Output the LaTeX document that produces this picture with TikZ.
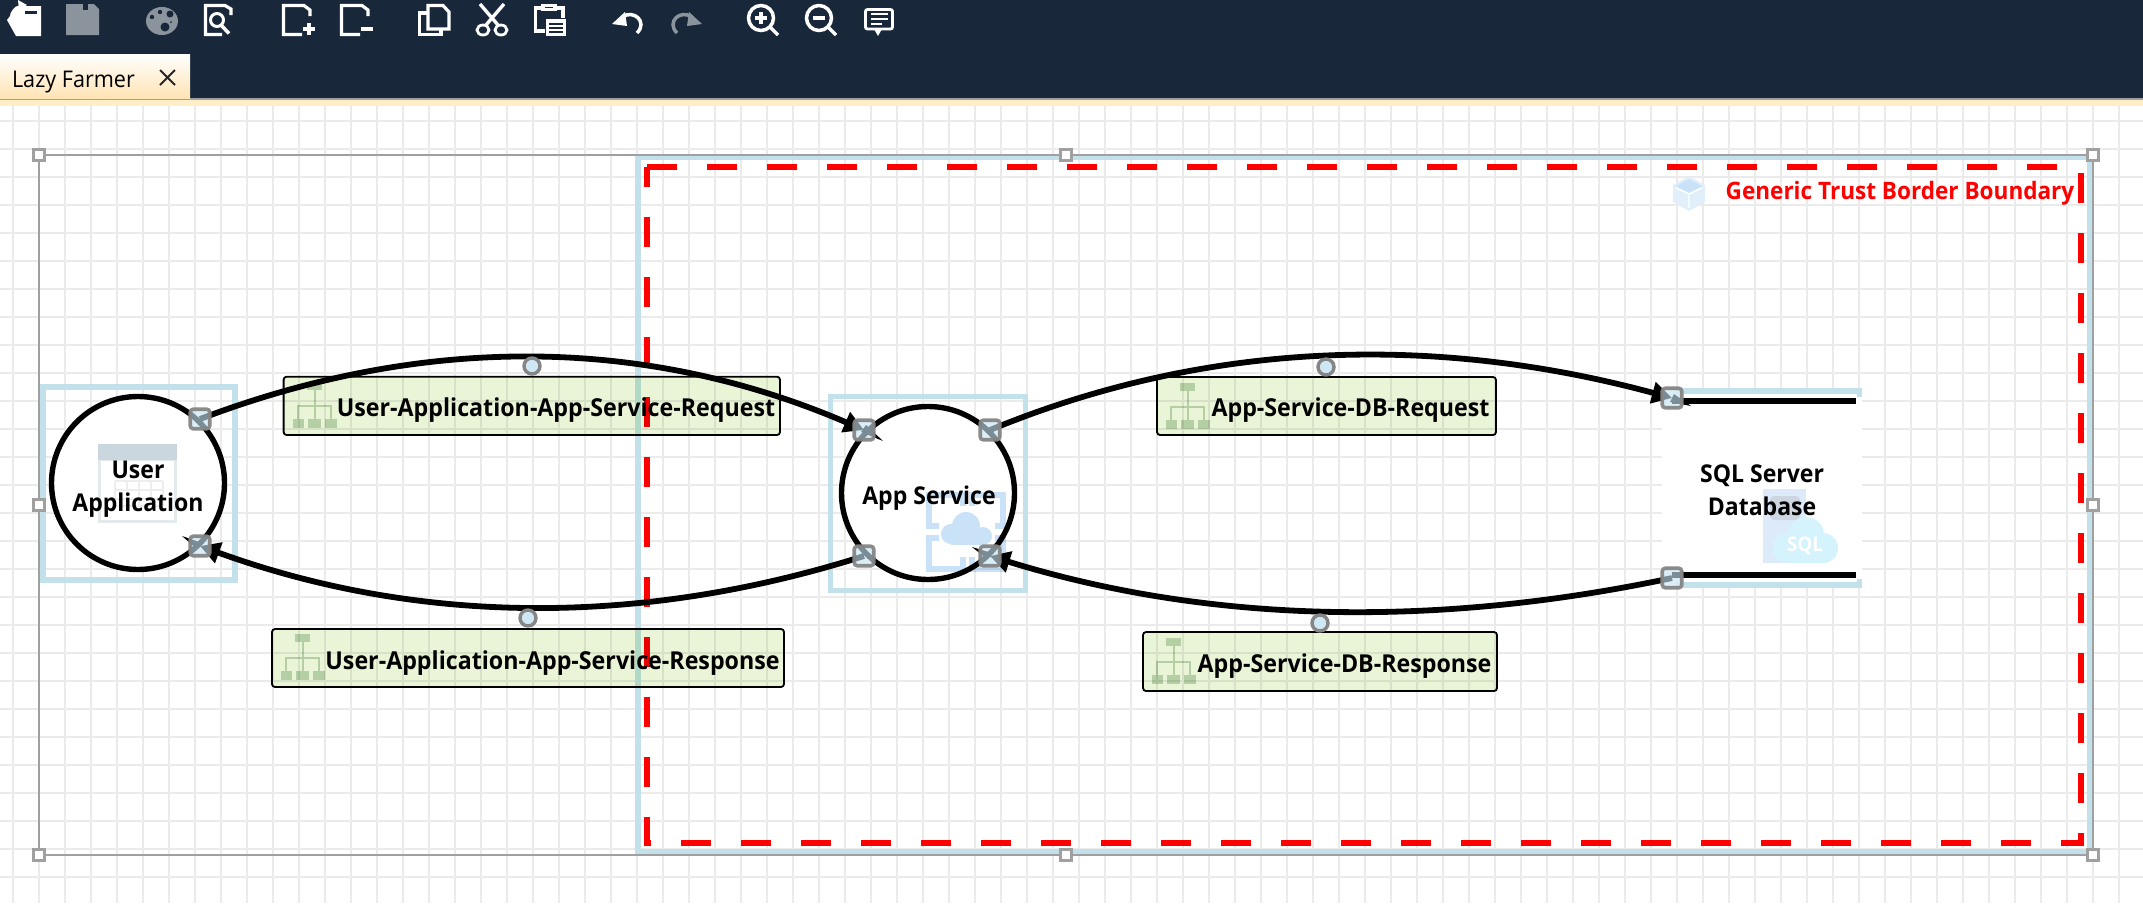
\documentclass[tikz,border=0pt]{standalone}
\usepackage{fontspec}
\setmainfont{Open Sans}[FakeStretch=0.94]
\usetikzlibrary{arrows.meta,shapes.geometric}
\definecolor{barbg}{HTML}{18283A}
\definecolor{toolgray}{HTML}{8B949D}
\definecolor{gridc}{HTML}{EBEBEB}
\definecolor{bluebd}{HTML}{C2E1EB}
\definecolor{selgray}{HTML}{A0A0A0}
\definecolor{labelg}{HTML}{EAF5D8}
\definecolor{neticonc}{HTML}{C6D8C2}
\definecolor{iconblue}{HTML}{C9E2F8}
\definecolor{portgray}{HTML}{858585}
\definecolor{portfill}{HTML}{C6E3F2}
\definecolor{creamc}{HTML}{FFEFC8}
\definecolor{apphead}{HTML}{CAD7DE}
\definecolor{appedge}{HTML}{E4E9EC}
\definecolor{sqlback}{HTML}{DDEAF9}
\definecolor{sqlchip}{HTML}{CDD6E0}
\definecolor{sqlcloud}{HTML}{D4F3FC}
\tikzset{
  blueframe/.style={draw=bluebd,line width=5.5pt},
  procnode/.style={circle,draw=black,fill=white,line width=5.4pt,minimum size=173pt,inner sep=0pt},
  caption/.style={font=\bfseries\fontsize{24.5}{32.5}\selectfont,align=center,inner sep=0pt,text=black},
  flowlabel/.style={draw=black,line width=1.8pt,fill=labelg,rounded corners=3pt,inner sep=0pt},
  flowtext/.style={font=\bfseries\fontsize{24.7}{28}\selectfont,inner sep=0pt,text=black},
  portbox/.style={rectangle,draw=portgray,line width=3.6pt,fill=portfill,fill opacity=.62,draw opacity=.95,rounded corners=3pt,minimum size=19.5pt,inner sep=0pt},
  knob/.style={circle,draw=portgray,line width=3.4pt,fill=portfill!85!white,minimum size=16pt,inner sep=0pt},
  handlebox/.style={rectangle,draw=selgray,line width=2.4pt,fill=white,minimum size=11pt,inner sep=0pt},
  flow/.style={draw=black,line width=5.8pt,-{Triangle[length=20pt,width=21pt]}},
  plainflow/.style={draw=black,line width=6pt},
  tw/.style={draw=white,line width=3pt},
  tg/.style={draw=toolgray,line width=3.5pt},
}
\newcommand{\neticon}[2]{%
  \begin{scope}[shift={(#1,#2)}]
    \fill[neticonc] (14,0) rectangle (29,8);
    \fill[neticonc] (0,37) rectangle (11,46);
    \fill[neticonc] (15,37) rectangle (28,46);
    \fill[neticonc] (32,37) rectangle (44,46);
    \draw[neticonc,line width=2pt] (21.5,8) -- (21.5,37) (5,37) -- (5,24) -- (38,24) -- (38,37);
  \end{scope}}
\begin{document}
\begin{tikzpicture}[x=1pt,y=-1pt]
\useasboundingbox (0,0) rectangle (2143,903);
\fill[white] (0,0) rectangle (2143,903);
% ---- canvas grid
\foreach \k in {0,...,81} \draw[gridc,line width=2pt] (13.4+26*\k,106) -- (13.4+26*\k,903);
\foreach \k in {0,...,27} \draw[gridc,line width=2pt] (0,121.3+28*\k) -- (2143,121.3+28*\k);
% ---- application chrome
\fill[barbg] (0,0) rectangle (2143,98);
\fill[selgray] (0,98) rectangle (2143,100);
\fill[creamc] (0,100) rectangle (2143,106);
\shade[top color=white,bottom color=creamc!90!orange] (0,54) rectangle (190,98);
\node[inner sep=0pt,font=\fontsize{23}{26}\selectfont,text=black] (tabtext) at (73.5,82) {Lazy Farmer};
\draw[black!85,line width=1.8pt] (160,70) -- (175,85) (175,70) -- (160,85);
% toolbar: open
\fill[white] (7,20) -- (16,36) -- (41,36) -- (41,6) -- (22,6) .. controls (14,7) and (10,12) .. (10,16) -- cycle;
\fill[barbg] (25,11) rectangle (37,14);
\draw[white,line width=2.5pt] (12,14) .. controls (14,8) and (18,6) .. (24,6);
\fill[white] (18,0) -- (27,5) -- (19,9) -- cycle;
% save
\fill[toolgray] (66,4) -- (94,4) -- (99,9) -- (99,35) -- (66,35) -- cycle;
\fill[barbg] (83,4) rectangle (88,10);
% palette
\fill[toolgray] (162,21) ellipse [x radius=16,y radius=14];
\fill[barbg] (160,12) circle (2.2);
\fill[barbg] (170,14) circle (3.5);
\fill[barbg] (165,27) circle (4.5);
\fill[barbg] (152,17) circle (2.2);
\fill[barbg] (171,22) circle (1);
% preview
\draw[tw,line width=3.2pt] (231,15) -- (231,9) -- (225,5.5) -- (205.5,5.5) -- (205.5,34.5) -- (222,34.5);
\draw[tw] (217,20) circle (6.5);
\draw[tw,line width=3.5pt] (221,25) -- (229,33.5);
% new page / remove page
\draw[tw,line width=3.2pt] (310,16) -- (310,10) -- (304,5.5) -- (283.5,5.5) -- (283.5,34.5) -- (302,34.5);
\draw[tw,line width=3.4pt] (303,29) -- (315,29) (309,23) -- (309,35);
\draw[tw,line width=3.2pt] (368,16) -- (368,10) -- (362,5.5) -- (341.5,5.5) -- (341.5,34.5) -- (360,34.5);
\draw[tw,line width=3.6pt] (361,29) -- (373,29);
% copy
\draw[tw,line width=3.2pt] (428,5.5) -- (443,5.5) -- (449,12) -- (449,29) -- (428,29) -- cycle;
\draw[tw,line width=3.2pt] (428,13) -- (419.5,13) -- (419.5,34.5) -- (441,34.5) -- (441,29);
% cut
\draw[tw,line width=3.4pt] (480,4) -- (498,25) (504,4) -- (486,25);
\draw[tw,line width=2.8pt] (483,30) ellipse [x radius=6,y radius=5] (501,30) ellipse [x radius=6,y radius=5];
% paste
\draw[tw,line width=3.2pt] (541,8) -- (535.5,8) -- (535.5,31) -- (545,31) (557,8) -- (563,8) -- (563,18);
\fill[white] (541,4) rectangle (557,11);
\fill[barbg] (545,6.5) rectangle (553,8);
\fill[white] (546,19) rectangle (566,36);
\draw[barbg,line width=1.5pt] (549,24) -- (563,24) (549,28) -- (563,28) (549,32) -- (563,32);
% undo / redo
\draw[tw,line width=3.5pt] (622,17) .. controls (634,9) and (648,22) .. (637,33);
\fill[white] (612,24) -- (625,12) -- (627,26) -- cycle;
\draw[tg] (692,17) .. controls (680,9) and (666,22) .. (677,33);
\fill[toolgray] (702,24) -- (689,12) -- (687,26) -- cycle;
% zoom in / out
\draw[tw,line width=3.5pt] (761,18) circle (12.5) (771,28) -- (778,35);
\draw[tw,line width=3.2pt] (755,18) -- (767,18) (761,12) -- (761,24);
\draw[tw,line width=3.5pt] (819,18) circle (12.5) (829,28) -- (836,35);
\draw[tw,line width=3.4pt] (813,18) -- (825,18);
% comment
\draw[tw,line width=2.8pt,rounded corners=2pt] (865.5,9.5) rectangle (892.5,29);
\fill[white] (874,29) -- (878,36) -- (882,29) -- cycle;
\draw[tw,line width=1.6pt] (871,14) -- (888,14) (871,19) -- (888,19) (871,24) -- (882,24);
% ---- trust border
\draw[blueframe] (638,157.5) rectangle (2090,852);
\draw[red,line width=6pt,dash pattern=on 30pt off 30pt] (647,167) -- (2081,167) -- (2081,843) -- (647,843) -- cycle;
\draw[selgray,line width=2pt] (39,155) rectangle (2093,855);
% cube icon
\fill[iconblue!55!white] (1689,176) -- (1705,185) -- (1705,202) -- (1689,211) -- (1673,202) -- (1673,185) -- cycle;
\fill[iconblue] (1689,179) -- (1702,186) -- (1689,193) -- (1676,186) -- cycle;
\draw[white,line width=1.4pt] (1689,194) -- (1689,208) (1676,188) -- (1689,194) -- (1702,188);
\node[inner sep=0pt,text=red,font=\bfseries\fontsize{24}{28}\selectfont] (trusttext) at (1900,193.5) {Generic Trust Border Boundary};
% ---- User Application
\draw[blueframe] (43,387) rectangle (235,580);
\node[procnode] (ua) at (138,483) {};
\fill[appedge] (98,444) rectangle (177,523);
\fill[white] (101,461) rectangle (174,520);
\fill[apphead] (98,444) rectangle (177,460);
\foreach \yy in {481,490,499,506} \draw[black!7,line width=1.2pt] (115,\yy) -- (163,\yy);
\foreach \xx in {115,127,139,151,163} \draw[black!7,line width=1.2pt] (\xx,481) -- (\xx,506);
\node[caption] (uatext) at (138,489) {User\\Application};
% ---- App Service
\draw[blueframe] (830.5,396.5) rectangle (1025.5,590.5);
\node[procnode] (as) at (928,493) {};
\begin{scope}[blend mode=multiply]
\draw[iconblue,line width=5.5pt] (963,506) -- (963,495) -- (929,495) -- (929,526) -- (939,526);
\draw[iconblue,line width=5.5pt] (972,506) -- (972,495) -- (1003,495) -- (1003,526) -- (995,526);
\draw[iconblue,line width=5.5pt] (963,557) -- (963,569) -- (929,569) -- (929,538) -- (939,538);
\draw[iconblue,line width=5.5pt] (972,557) -- (972,569) -- (1003,569) -- (1003,538) -- (995,538);
\end{scope}
\fill[iconblue] (966,526) circle (14);
\fill[iconblue] (951,534) circle (10);
\fill[iconblue] (983,536) circle (9);
\fill[iconblue] (951,533) rectangle (983,545);
\node[caption] (astext) at (929,498) {App Service};
% ---- SQL Server Database
\fill[white] (1662,394) rectangle (1862,582);
\fill[bluebd] (1680,388) rectangle (1862,394);
\fill[bluebd] (1857,388) rectangle (1862,397);
\fill[bluebd] (1680,582) rectangle (1862,588);
\fill[bluebd] (1857,579) rectangle (1862,588);
\fill[sqlback] (1763,489) rectangle (1806,563);
\fill[sqlchip,rounded corners=4pt] (1770,496) rectangle (1800,520);
\fill[sqlcloud] (1806,535) circle (18);
\fill[sqlcloud] (1787,548) circle (14.5);
\fill[sqlcloud] (1823,548) circle (15);
\fill[sqlcloud] (1787,545) rectangle (1823,563);
\node[inner sep=0pt,text=white,font=\bfseries\fontsize{20}{20}\selectfont] (sqlmark) at (1805,546) {SQL};
\node[caption] (dbtext) at (1762,490) {SQL Server\\Database};
% ---- port positions
\coordinate (ua1) at (200,419);
\coordinate (ua2) at (200,546);
\coordinate (as1) at (864,430);
\coordinate (as2) at (990,430);
\coordinate (as3) at (864,556);
\coordinate (as4) at (990,556);
\coordinate (db1) at (1672,398);
\coordinate (db2) at (1672,578);
% ---- data store bars
\coordinate (db1end) at (1856,401);
\coordinate (db2end) at (1856,575);
\coordinate (db1start) at (1672,401);
\coordinate (db2start) at (1672,575);
\draw[plainflow] (db1start) -- (db1end);
\draw[plainflow] (db2start) -- (db2end);
% ---- flows
\draw[flow] (ua1) .. controls (421,335) and (643,335) .. (as1);
\draw[flow] (as3) .. controls (643,626) and (421,626) .. (ua2);
\draw[flow] (as2) .. controls (1220,335) and (1450,338) .. (db1);
\draw[flow] (db2) .. controls (1445,626) and (1217,626) .. (as4);
% arrow slivers
\fill[black] (866,425) -- (861,432) -- (883,441) -- cycle;
\fill[black] (202,543) -- (197,549) -- (182,536) -- cycle;
\fill[black] (1674,394) -- (1670,402) -- (1691,406) -- cycle;
\fill[black] (992,553) -- (987,559) -- (972,547) -- cycle;
% ---- port boxes on top
\node[portbox] (pua1) at (ua1) {};
\node[portbox] (pua2) at (ua2) {};
\node[portbox] (pas1) at (as1) {};
\node[portbox] (pas2) at (as2) {};
\node[portbox] (pas3) at (as3) {};
\node[portbox] (pas4) at (as4) {};
\node[portbox] (pdb1) at (db1) {};
\node[portbox] (pdb2) at (db2) {};
% ---- flow labels
\begin{scope}[blend mode=multiply]
\draw[flowlabel] (283.6,376.7) rectangle (780,435);
\draw[flowlabel] (272,629) rectangle (784,687);
\draw[flowlabel] (1157,377) rectangle (1496,435);
\draw[flowlabel] (1143,632) rectangle (1497,691);
\neticon{293}{382}
\neticon{281}{634}
\neticon{1166}{383}
\neticon{1152}{638}
\end{scope}
\node[flowtext,anchor=center] (l1) at (556,410.5) {User-Application-App-Service-Request};
\node[flowtext,anchor=center] (l2) at (552.5,663.5) {User-Application-App-Service-Response};
\node[flowtext,anchor=center] (l3) at (1350.5,410.5) {App-Service-DB-Request};
\node[flowtext,anchor=center] (l4) at (1344.5,666.5) {App-Service-DB-Response};
\node[knob] (k1) at (532,366) {};
\node[knob] (k2) at (528,618) {};
\node[knob] (k3) at (1326,367) {};
\node[knob] (k4) at (1320,623) {};
% ---- selection handles
\node[handlebox] (h1) at (39,155) {};
\node[handlebox] (h2) at (1066,155) {};
\node[handlebox] (h3) at (2093,155) {};
\node[handlebox] (h4) at (39,505) {};
\node[handlebox] (h5) at (2093,505) {};
\node[handlebox] (h6) at (39,855) {};
\node[handlebox] (h7) at (1066,855) {};
\node[handlebox] (h8) at (2093,855) {};
\end{tikzpicture}
\end{document}
